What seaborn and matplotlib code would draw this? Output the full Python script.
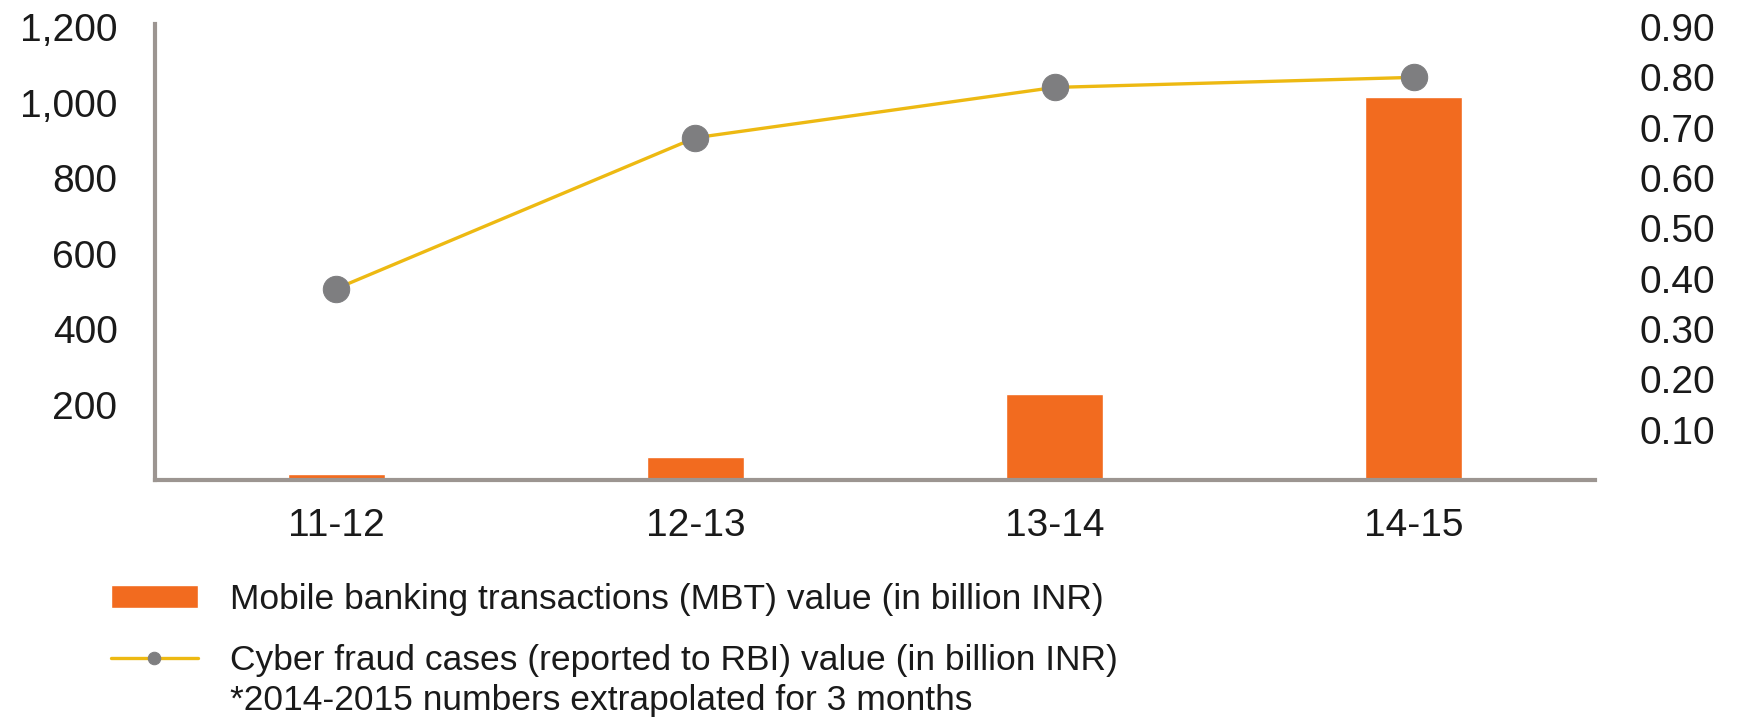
import numpy             as np
import pandas            as pd
import seaborn           as sns
import matplotlib.pyplot as plt

years       = ['11-12', '12-13', '13-14', '14-15']
mbt_value   = [15, 60, 228, 1015]
fraud_value = [0.38, 0.68, 0.78, 0.80]

left_ticks  = [200, 400, 600, 800, 1000, 1200]
right_ticks = [0.10, 0.20, 0.30, 0.40, 0.50, 0.60, 0.70, 0.80, 0.90]

label_mbt   = 'Mobile banking transactions (MBT) value (in billion INR)'
label_fraud = 'Cyber fraud cases (reported to RBI) value (in billion INR)'
footnote    = '*2014-2015 numbers extrapolated for 3 months'

orange = '#F26B1F'
yellow = '#EDB912'
grey   = '#7E7E80'
spine  = '#9C9591'
ink    = '#1a1a1a'

sns.set_style('white')
plt.rcParams['font.family'] = ['Liberation Sans', 'DejaVu Sans']

df = pd.DataFrame({'year': years, 'mbt': mbt_value, 'fraud': fraud_value})

fig = plt.figure(figsize=(17.44, 7.17), dpi=100)
ax  = fig.add_axes([155 / 1744, 1 - 480 / 717, 1440 / 1744, 456 / 717])

sns.barplot(data=df, x='year', y='mbt', color=orange, width=0.27,
            saturation=1, ax=ax, label=label_mbt)
ax.set_ylim(0, 1208)
ax.set_yticks(left_ticks)
ax.set_yticklabels(['{:,}'.format(t) for t in left_ticks])
ax.set_xlabel('')
ax.set_ylabel('')
ax.tick_params(axis='both', length=0, labelsize=28, colors=ink)
ax.tick_params(axis='x', pad=20)
ax.tick_params(axis='y', pad=27)

ax2 = ax.twinx()
sns.lineplot(data=df, x='year', y='fraud', color=yellow, linewidth=2.4,
             marker='o', markersize=19, markerfacecolor=grey,
             markeredgecolor=grey, ax=ax2, label=label_fraud, legend=False)
ax2.set_ylim(0, 1208 * 0.9 / 1200)
ax2.set_yticks(right_ticks)
ax2.set_yticklabels(['{:.2f}'.format(t) for t in right_ticks])
ax2.set_ylabel('')
ax2.tick_params(axis='y', length=0, labelsize=28, pad=32, colors=ink)
ax.set_xlim(-0.504, 3.504)

for a in (ax, ax2):
    for s in a.spines.values():
        s.set_visible(False)
for s in ('left', 'bottom'):
    ax.spines[s].set_visible(True)
    ax.spines[s].set_color(spine)
    ax.spines[s].set_linewidth(3)

if ax.get_legend() is not None:
    ax.get_legend().remove()
h1, l1 = ax.get_legend_handles_labels()
h2, l2 = ax2.get_legend_handles_labels()
leg = fig.legend(h1 + h2, l1 + l2, loc='upper left',
                 bbox_to_anchor=(111 / 1744, 1 - 583 / 717),
                 frameon=False, fontsize=25.5, handlelength=2.45,
                 handleheight=0.58, handletextpad=0.9, labelspacing=0.78,
                 borderpad=0, borderaxespad=0, labelcolor=ink)
leg.legend_handles[1].set_markersize(9)
fig.text(230 / 1744, 1 - 710 / 717, footnote, fontsize=25.5, va='baseline',
         color=ink)

fig.savefig('out.png', dpi=100)
